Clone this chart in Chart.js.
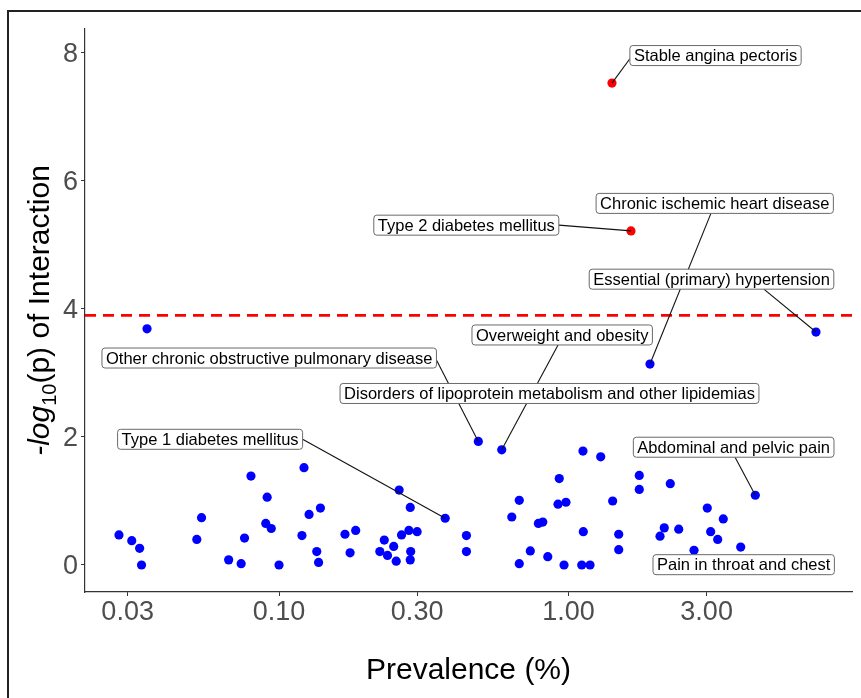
<!DOCTYPE html>
<html>
<head>
<meta charset="utf-8">
<script src="https://cdn.jsdelivr.net/npm/chart.js@4.4.1/dist/chart.umd.min.js"></script>
<style>
  html, body { margin: 0; padding: 0; background: #fff; overflow: hidden; }
  #wrap { position: relative; width: 861px; height: 698px; }
  #chart { position: absolute; left: 0; top: 0; }
  #frame { position: absolute; left: 7px; top: 10px; width: 900px; height: 750px; border: 2px solid #222; pointer-events: none; }
</style>
</head>
<body>
<div id="wrap">
  <canvas id="chart" width="861" height="698"></canvas>
  <div id="frame"></div>
</div>
<script>
// prevalence (%) and -log10(p) of interaction, one entry per condition
const prevalence = [
    0.028, 0.031, 0.033, 0.0335, 0.035, 0.052, 0.054, 0.067, 0.074, 0.076,
    0.080, 0.090, 0.091, 0.094, 0.100, 0.120, 0.122, 0.127, 0.135, 0.137,
    0.139, 0.169, 0.176, 0.184, 0.223, 0.231, 0.237, 0.249, 0.254, 0.260,
    0.265, 0.281, 0.284, 0.284, 0.285, 0.300, 0.375, 0.444, 0.444, 0.488,
    0.588, 0.637, 0.676, 0.676, 0.738, 0.787, 0.815, 0.848, 0.920, 0.929,
    0.965, 0.980, 1.111, 1.122, 1.125, 1.187, 1.292, 1.413, 1.421, 1.491,
    1.491, 1.644, 1.756, 1.756, 1.912, 2.071, 2.142, 2.247, 2.403, 2.714,
    3.016, 3.098, 3.276, 3.425, 3.934, 4.419, 7.160
];
const negLogP = [
    0.47, 0.38, 0.26, 0.00, 3.69, 0.40, 0.74, 0.08, 0.02, 0.42,
    1.39, 0.65, 1.06, 0.57, 0.00, 0.46, 1.52, 0.79, 0.21, 0.04,
    0.89, 0.48, 0.19, 0.54, 0.21, 0.39, 0.15, 0.29, 0.06, 1.17,
    0.47, 0.54, 0.90, 0.08, 0.21, 0.52, 0.73, 0.46, 0.21, 1.93,
    1.80, 0.75, 1.01, 0.02, 0.22, 0.65, 0.67, 0.13, 0.95, 1.35,
    0.00, 0.98, 0.00, 1.78, 0.52, 0.00, 1.69, 7.53, 1.00, 0.48,
    0.24, 5.22, 1.40, 1.18, 3.14, 0.45, 0.58, 1.27, 0.56, 0.23,
    0.89, 0.52, 0.40, 0.72, 0.28, 1.09, 3.64
];
const threshold = 3.9;

// named conditions and the point (index into the arrays above) they refer to
const labelNames = [
    'Stable angina pectoris',
    'Chronic ischemic heart disease',
    'Type 2 diabetes mellitus',
    'Essential (primary) hypertension',
    'Overweight and obesity',
    'Other chronic obstructive pulmonary disease',
    'Disorders of lipoprotein metabolism and other lipidemias',
    'Type 1 diabetes mellitus',
    'Abdominal and pelvic pain',
    'Pain in throat and chest'
];
const labelPoint = [57, 64, 61, 76, 40, 39, -1, 36, 75, 69];

const xTicks = [0.03, 0.1, 0.3, 1, 3];
const yTicks = [0, 2, 4, 6, 8];

// where each label box sits (data coords of its centre) and where its leader starts (box fraction)
const labelLayout = [
    { x: 3.22, y: 7.96, from: [0, 0.66] },
    { x: 3.20, y: 5.65, from: [0.484, 1] },
    { x: 0.4436, y: 5.31, from: [1, 0.5] },
    { x: 3.119, y: 4.466, from: [0.714, 1] },
    { x: 0.9511, y: 3.594, from: [0.477, 1] },
    { x: 0.0925, y: 3.234, from: [1, 0.6] },
    { x: 0.8597, y: 2.68, from: null },
    { x: 0.0578, y: 1.964, from: [1, 0.5] },
    { x: 3.72, y: 1.84, from: [0.507, 1] },
    { x: 4.029, y: 0.005, from: null }
];

const FONT = '"Liberation Sans", Arial, Helvetica, sans-serif';
const xMin = 0.02137, xMax = 9.535;
const yMin = -0.422, yMax = 8.375;

const points = prevalence.map((p, i) => ({ x: p, y: negLogP[i] }));

function boxPath(ctx, x, y, w, h, r) {
    ctx.beginPath();
    ctx.moveTo(x + r, y);
    ctx.lineTo(x + w - r, y);
    ctx.arcTo(x + w, y, x + w, y + r, r);
    ctx.lineTo(x + w, y + h - r);
    ctx.arcTo(x + w, y + h, x + w - r, y + h, r);
    ctx.lineTo(x + r, y + h);
    ctx.arcTo(x, y + h, x, y + h - r, r);
    ctx.lineTo(x, y + r);
    ctx.arcTo(x, y, x + r, y, r);
    ctx.closePath();
}

const repelLabels = {
    id: 'repelLabels',
    afterDatasetsDraw(chart) {
        const ctx = chart.ctx;
        const xs = chart.scales.x, ys = chart.scales.y;
        ctx.save();
        ctx.font = '16.5px ' + FONT;
        const boxes = labelNames.map((name, i) => {
            const w = ctx.measureText(name).width + 8;
            const h = 20;
            const cx = xs.getPixelForValue(labelLayout[i].x);
            const cy = ys.getPixelForValue(labelLayout[i].y);
            return { name, x: cx - w / 2, y: cy - h / 2, w, h };
        });
        // leader segments first so the boxes sit on top of them
        ctx.strokeStyle = '#111';
        ctx.lineWidth = 1.1;
        boxes.forEach((b, i) => {
            const from = labelLayout[i].from;
            if (!from || labelPoint[i] < 0) return;
            const p = points[labelPoint[i]];
            ctx.beginPath();
            ctx.moveTo(b.x + from[0] * b.w, b.y + from[1] * b.h);
            ctx.lineTo(xs.getPixelForValue(p.x), ys.getPixelForValue(p.y));
            ctx.stroke();
        });
        boxes.forEach(b => {
            boxPath(ctx, b.x, b.y, b.w, b.h, 3);
            ctx.fillStyle = '#fff';
            ctx.fill();
            ctx.strokeStyle = '#6a6a6a';
            ctx.lineWidth = 1;
            ctx.stroke();
            ctx.fillStyle = '#000';
            ctx.textBaseline = 'middle';
            ctx.textAlign = 'left';
            ctx.fillText(b.name, b.x + 4, b.y + b.h / 2 + 1);
        });
        ctx.restore();
    },
    afterDraw(chart) {
        // y title: "-log" italic, subscript 10, then the rest
        const ctx = chart.ctx;
        const area = chart.chartArea;
        const parts = [
            { t: '-log', f: 'italic 30px ' + FONT, dy: 0 },
            { t: '10', f: '20px ' + FONT, dy: 7 },
            { t: '(p) of Interaction', f: '30px ' + FONT, dy: 0 }
        ];
        ctx.save();
        let total = 0;
        parts.forEach(p => { ctx.font = p.f; p.w = ctx.measureText(p.t).width; total += p.w; });
        ctx.translate(49, (area.top + area.bottom) / 2);
        ctx.rotate(-Math.PI / 2);
        ctx.fillStyle = '#000';
        ctx.textBaseline = 'alphabetic';
        let cx = -total / 2;
        parts.forEach(p => {
            ctx.font = p.f;
            ctx.fillText(p.t, cx, p.dy);
            cx += p.w;
        });
        ctx.restore();
    }
};

new Chart(document.getElementById('chart'), {
    type: 'scatter',
    data: {
        datasets: [
            {
                label: 'threshold',
                type: 'line',
                data: [{ x: xMin, y: threshold }, { x: xMax, y: threshold }],
                borderColor: '#ff0000',
                borderWidth: 2.6,
                borderDash: [11, 7],
                pointRadius: 0,
                order: 3
            },
            {
                label: 'not significant',
                data: points.filter(p => p.y <= threshold),
                backgroundColor: '#0000ff',
                borderWidth: 0,
                pointRadius: 4.6,
                order: 2
            },
            {
                label: 'significant',
                data: points.filter(p => p.y > threshold),
                backgroundColor: '#ff0000',
                borderWidth: 0,
                pointRadius: 4.6,
                order: 1
            }
        ]
    },
    options: {
        responsive: false,
        animation: false,
        devicePixelRatio: 1,
        layout: { padding: { top: 29, right: 9, left: 0, bottom: 0 } },
        plugins: { legend: { display: false }, tooltip: { enabled: false } },
        scales: {
            x: {
                type: 'logarithmic',
                min: xMin,
                max: xMax,
                afterBuildTicks: s => { s.ticks = xTicks.map(v => ({ value: v })); },
                afterFit: s => { s.height = 106; },
                ticks: {
                    callback: v => Number(v).toFixed(2),
                    font: { size: 27, family: FONT },
                    color: '#4d4d4d',
                    padding: 0,
                    autoSkip: false,
                    maxRotation: 0
                },
                grid: { drawOnChartArea: false, tickLength: 4, color: '#333', lineWidth: 1 },
                border: { color: '#333', width: 1.2 },
                title: {
                    display: true,
                    text: 'Prevalence (%)',
                    font: { size: 30, family: FONT },
                    color: '#000',
                    padding: { top: 0, bottom: 9 }
                }
            },
            y: {
                min: yMin,
                max: yMax,
                afterBuildTicks: s => { s.ticks = yTicks.map(v => ({ value: v })); },
                afterFit: s => { s.width = 85; },
                ticks: {
                    font: { size: 27, family: FONT },
                    color: '#4d4d4d',
                    padding: 3,
                    labelOffset: 2
                },
                grid: { drawOnChartArea: false, tickLength: 4, color: '#333', lineWidth: 1 },
                border: { color: '#333', width: 1.2 }
            }
        }
    },
    plugins: [repelLabels]
});
</script>
</body>
</html>
